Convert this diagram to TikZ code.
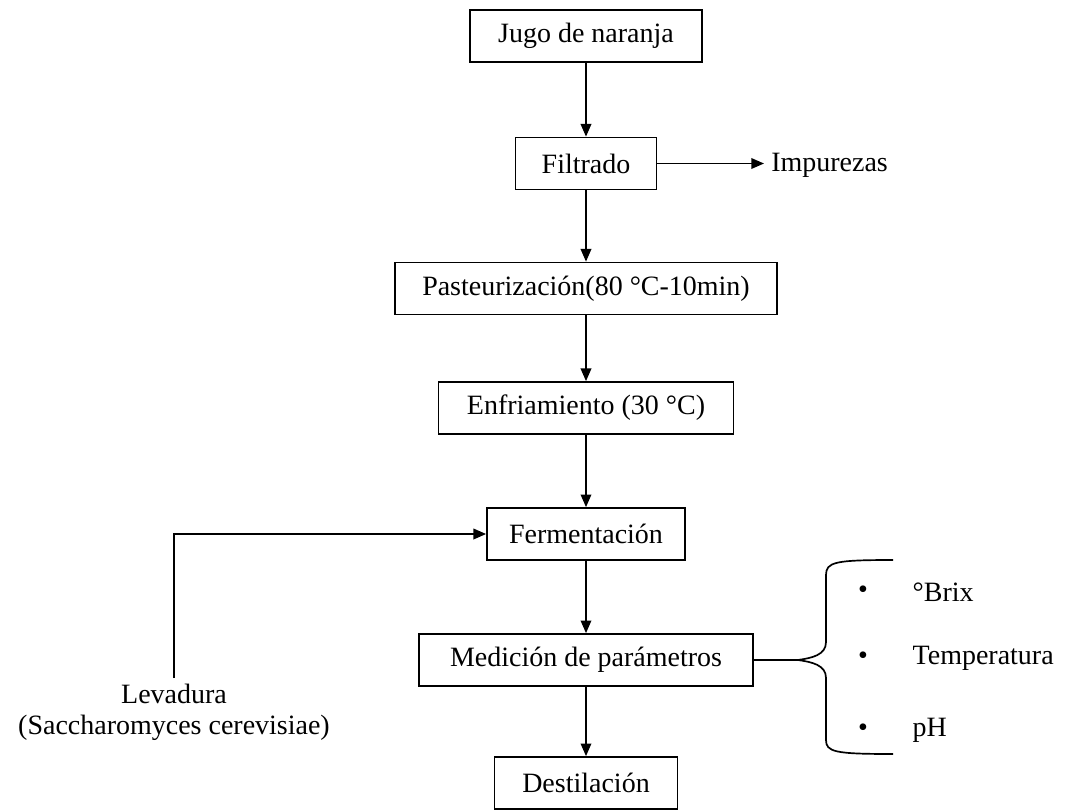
\documentclass[tikz,border=0pt]{standalone}
\usepackage{fontspec}
\setmainfont{Liberation Serif}
\usetikzlibrary{arrows.meta}

\begin{document}
\begin{tikzpicture}[
    x=0.025cm, y=-0.025cm,
    >={Triangle[length=9pt,width=7.5pt]},
    every node/.style={font=\fontsize{19.9}{22}\selectfont},
    etapa/.style={
        draw,
        line width=1.2pt,
        align=center,
        minimum height=1.3cm
    },
    flecha/.style={
        ->,
        line width=1.2pt
    },
    nota/.style={
        align=center,
        inner sep=1pt
    }
]
    \useasboundingbox (0,0) rectangle (1068,810);

    % Process steps
    \node[etapa, minimum width=5.8cm] (jugo) at (586,36) {Jugo de naranja};

    \node[etapa, minimum width=3.525cm] (filtrado) at (586,163.5) {Filtrado};

    \node[etapa, minimum width=9.55cm] (pasteur) at (586,288.5)
        {Pasteurización(80 °C-10min)};

    \node[etapa, minimum width=7.375cm] (enfria) at (586,408)
        {Enfriamiento (30 °C)};

    \node[etapa, minimum width=4.95cm] (ferment) at (586,534) {Fermentación};

    \node[etapa, minimum width=8.35cm] (medicion) at (586,660)
        {Medición de parámetros};

    \node[etapa, minimum width=4.575cm] (destila) at (586,783) {Destilación};

    % Side inputs and outputs
    \node[nota, inner xsep=5pt, anchor=west] (impurezas) at (764,165)
        {Impurezas};

    \node[nota, inner ysep=4pt, anchor=north] (levadura) at (174,678)
        {Levadura\\(Saccharomyces cerevisiae)};

    % Main line
    \draw[flecha] (jugo) -- (filtrado);
    \draw[flecha] (filtrado) -- (pasteur);
    \draw[flecha] (pasteur) -- (enfria);
    \draw[flecha] (enfria) -- (ferment);
    \draw[flecha] (ferment) -- (medicion);
    \draw[flecha] (medicion) -- (destila);

    \draw[flecha] (filtrado) -- (filtrado -| impurezas.west);
    \draw[flecha] (levadura.north) |- (ferment.west);

    % Measured parameters
    \foreach \txt/\yy/\nom in {°Brix/592/brix, Temperatura/658/temp, pH/730/ph}{
        \node (bul\nom) at (863,\yy) {•};
        \node[nota, anchor=west] (\nom) at (911,\yy) {\txt};
    }

    % Brace joining the box with the list
    \draw[line width=1.2pt] (medicion.east) -- ++(44,0) coordinate (punta);
    \draw[line width=1.2pt]
        (893,560) .. controls (835,560) and (826,562) .. (826,575)
        -- (826,642) .. controls (826,655) and (812,658) .. (punta)
        .. controls (812,662) and (826,665) .. (826,678)
        -- (826,740) .. controls (826,752) and (835,754) .. (893,754);

\end{tikzpicture}
\end{document}
